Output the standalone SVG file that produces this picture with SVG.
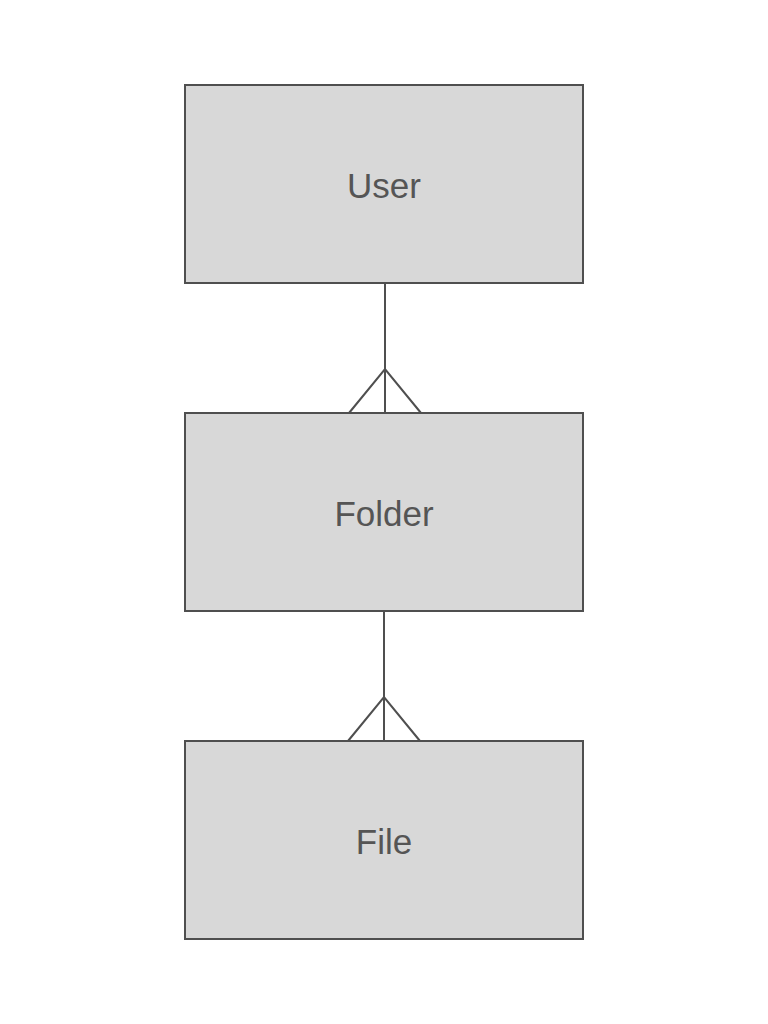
<svg xmlns="http://www.w3.org/2000/svg" width="768" height="1024" viewBox="0 0 768 1024">
<style>
.box{fill:#d8d8d8;stroke:#4f4f4f;stroke-width:2}
.lbl{font-family:"Liberation Sans",Arial,sans-serif;font-size:35px;fill:#555555;text-anchor:middle}
.con{stroke:#4f4f4f;stroke-width:2;fill:none}
</style>
<rect width="768" height="1024" fill="#ffffff"/>
<g id="connectors">
<path class="con" d="M385 283V413M349 413L385 369L421 413"/>
<path class="con" d="M384 611V741M348 741L384 697L420 741"/>
</g>
<g id="user"><rect class="box" x="185" y="85" width="398" height="198"/><text class="lbl" x="384" y="198">User</text></g>
<g id="folder"><rect class="box" x="185" y="413" width="398" height="198"/><text class="lbl" x="384" y="526">Folder</text></g>
<g id="file"><rect class="box" x="185" y="741" width="398" height="198"/><text class="lbl" x="384" y="854">File</text></g>
</svg>
